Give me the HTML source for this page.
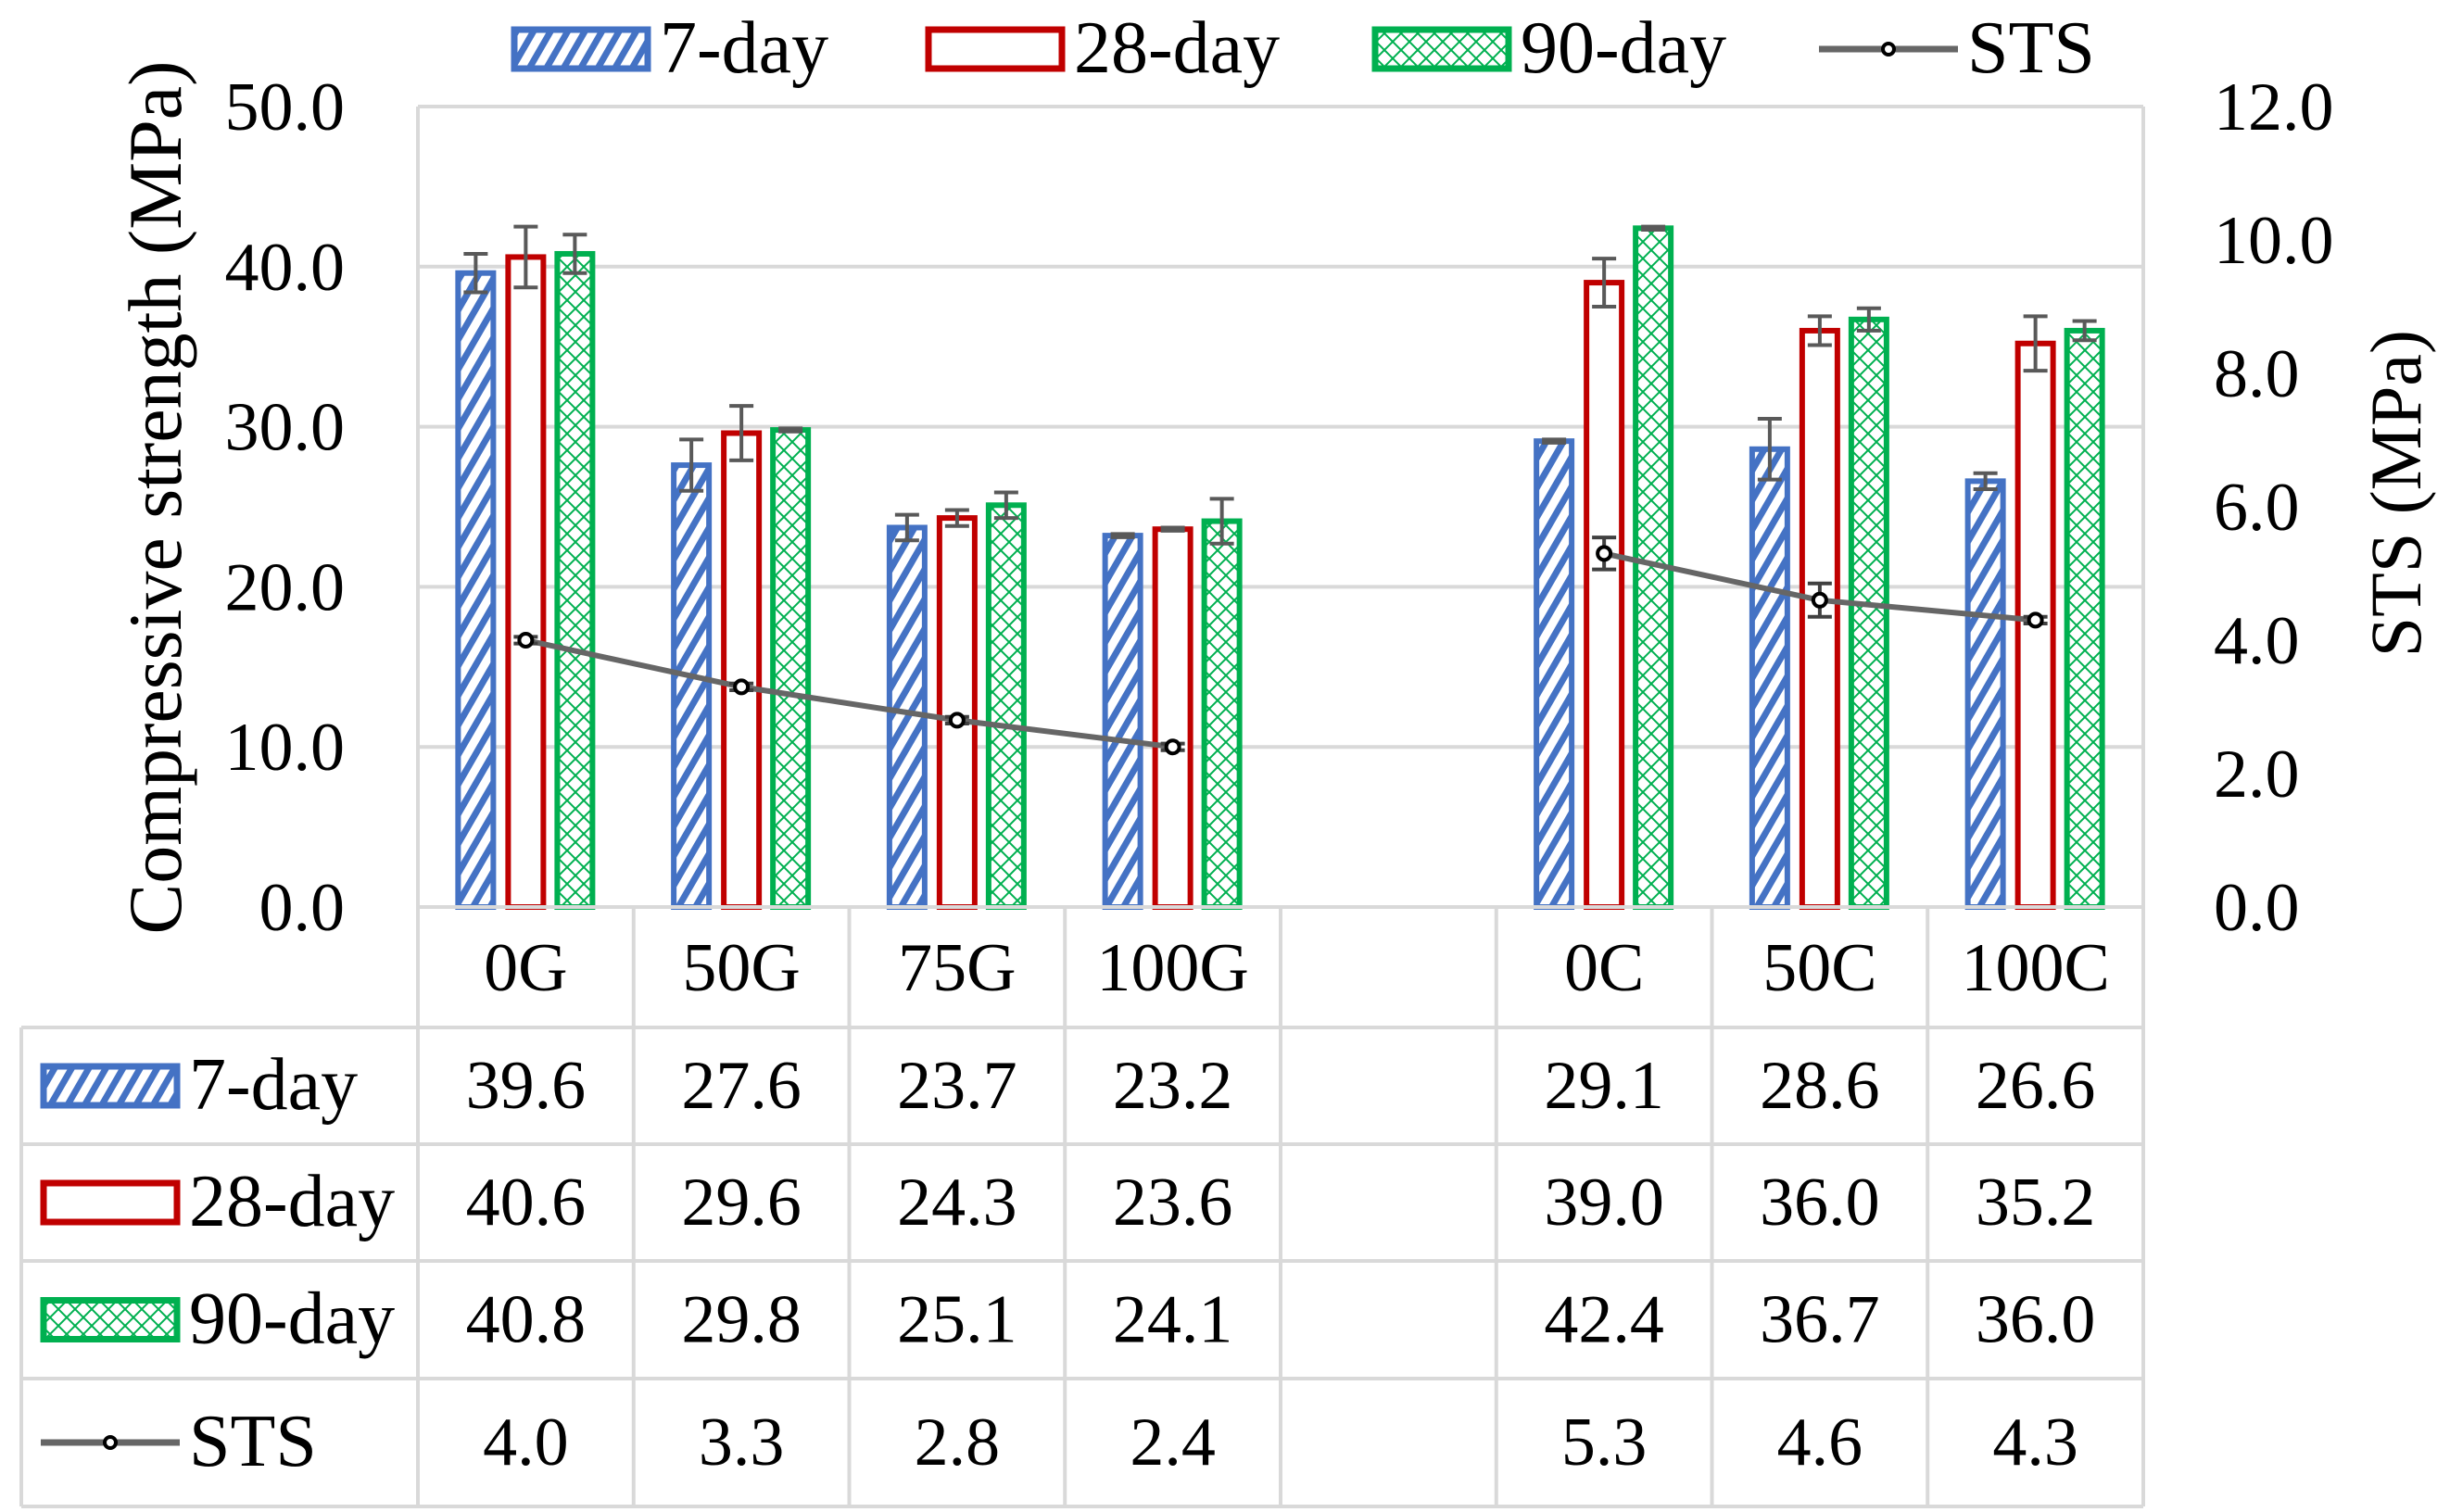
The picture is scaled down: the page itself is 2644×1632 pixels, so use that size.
<!DOCTYPE html>
<html><head><meta charset="utf-8"><style>
html,body{margin:0;padding:0;background:#fff}
svg{display:block}
text{font-family:"Liberation Serif",serif;fill:#000}
</style></head><body>
<svg id="chart" width="2644" height="1632" viewBox="0 0 2644 1632" xmlns="http://www.w3.org/2000/svg">
<defs>
<pattern id="pBlue" patternUnits="userSpaceOnUse" width="16" height="16" patternTransform="rotate(30)">
<rect width="16" height="16" fill="#fff"/><rect width="7" height="16" fill="#4472C4"/></pattern>
<pattern id="pGreen" patternUnits="userSpaceOnUse" width="18" height="18">
<rect width="18" height="18" fill="#fff"/><path d="M0 0L18 18M18 0L0 18" stroke="#00B050" stroke-width="2"/></pattern>
</defs>
<g id="grid"></g><g id="bars"></g><g id="line"></g><g id="table"></g><g id="labels"></g>
</svg>
<script>
const categories = ["0G","50G","75G","100G","","0C","50C","100C"];
const day7 = [39.6,27.6,23.7,23.2,null,29.1,28.6,26.6];
const day28 = [40.6,29.6,24.3,23.6,null,39.0,36.0,35.2];
const day90 = [40.8,29.8,25.1,24.1,null,42.4,36.7,36.0];
const sts = [4.0,3.3,2.8,2.4,null,5.3,4.6,4.3];
const err7 = [1.2,1.6,0.8,0.1,null,0.1,1.9,0.5];
const err28 = [1.9,1.7,0.5,0.1,null,1.5,0.9,1.7];
const err90 = [1.2,0.1,0.8,1.4,null,0.1,0.7,0.6];
const errSts = [0.05,0.05,0.05,0.05,null,0.24,0.25,0.05];
const leftTicks = ["0.0","10.0","20.0","30.0","40.0","50.0"];
const rightTicks = ["0.0","2.0","4.0","6.0","8.0","10.0","12.0"];

const NS="http://www.w3.org/2000/svg";
const L=451,R=2313,T=115,B=979;
const catW=(R-L)/categories.length;
const yL=v=>B-(v/50)*(B-T);
const yR=v=>B-(v/12)*(B-T);
const xC=i=>L+catW*(i+0.5);
function mk(tag,attrs,parent,txt){const e=document.createElementNS(NS,tag);for(const k in attrs)e.setAttribute(k,attrs[k]);if(txt!==undefined)e.textContent=txt;document.getElementById(parent).appendChild(e);return e;}
const GR="#d9d9d9";
const FS=74;
leftTicks.forEach((t,i)=>{const v=parseFloat(t);const y=yL(v);
 const g=mk('line',{x1:L,x2:R,y1:y,y2:y,stroke:GR,'stroke-width':4},'grid');
 
 const tx=mk('text',{x:372,y:y+25,'font-size':FS,'text-anchor':'end'},'labels',t);
 });
rightTicks.forEach(t=>{const y=yR(parseFloat(t));
 const tx=mk('text',{x:2389,y:y+25,'font-size':FS},'labels',t);
 });
mk('line',{x1:L,x2:L,y1:T,y2:B,stroke:GR,'stroke-width':4},'grid');
mk('line',{x1:R,x2:R,y1:T,y2:B,stroke:GR,'stroke-width':4},'grid');
const series=[{d:day7,e:err7,off:-54,fill:'url(#pBlue)',stroke:'#4472C4',n:'7day'},
{d:day28,e:err28,off:0,fill:'#fff',stroke:'#C00000',n:'28day'},
{d:day90,e:err90,off:53,fill:'url(#pGreen)',stroke:'#00B050',n:'90day'}];
const bw=38;
series.forEach(s=>{s.d.forEach((v,i)=>{if(v==null)return;const cx=xC(i)+s.off;const y=yL(v);
 const r=mk('rect',{x:cx-bw/2,y:y,width:bw,height:B-y,fill:s.fill,stroke:s.stroke,'stroke-width':6},'bars');
 
 const e=s.e[i];const y1=yL(v+e),y2=yL(v-e);
 const p=mk('path',{d:`M${cx} ${y1}V${y2}M${cx-13} ${y1}H${cx+13}M${cx-13} ${y2}H${cx+13}`,stroke:'#595959','stroke-width':4,fill:'none'},'bars');
 });});
function stsSeg(a,b){let d='';for(let i=a;i<=b;i++){d+=(i===a?'M':'L')+xC(i)+' '+yR(sts[i]);}
 const p=mk('path',{d:d,stroke:'#666','stroke-width':6,fill:'none'},'line');
 }
stsSeg(0,3);stsSeg(5,7);
sts.forEach((v,i)=>{if(v==null)return;const cx=xC(i),y=yR(v);const e=errSts[i];
 const p=mk('path',{d:`M${cx} ${yR(v+e)}V${yR(v-e)}M${cx-13} ${yR(v+e)}H${cx+13}M${cx-13} ${yR(v-e)}H${cx+13}`,stroke:'#404040','stroke-width':4,fill:'none'},'line');
 
 const c=mk('circle',{cx:cx,cy:y,r:7,fill:'#fff',stroke:'#000','stroke-width':4},'line');
 });
const rowsY=[979,1109,1235,1361,1488,1626];
for(let k=0;k<=categories.length;k++){const x=L+catW*k;
 const l=mk('line',{x1:x,x2:x,y1:B,y2:1626,stroke:GR,'stroke-width':4},'table');
 }
mk('line',{x1:23,x2:23,y1:1109,y2:1626,stroke:GR,'stroke-width':4},'table');
rowsY.forEach((y,j)=>{
 const l=mk('line',{x1:j===0?L:23,x2:R,y1:y,y2:y,stroke:GR,'stroke-width':4},'table');
 });
categories.forEach((c,i)=>{const t=mk('text',{x:xC(i),y:1069,'font-size':FS,'text-anchor':'middle'},'table',c);
 });
const rowData=[day7,day28,day90,sts];
rowData.forEach((arr,j)=>{const cy=(rowsY[j+1]+rowsY[j+2])/2;
 arr.forEach((v,i)=>{if(v==null)return;const t=mk('text',{x:xC(i),y:cy+24,'font-size':FS,'text-anchor':'middle'},'table',v.toFixed(1));
 });});
function key(x,y,idx,parent,name,label){
 if(idx<3){const s=series[idx];const r=mk('rect',{x:x+3,y:y-21,width:144,height:42,fill:s.fill,stroke:s.stroke,'stroke-width':7},parent);
  }
 else{mk('line',{x1:x,x2:x+150,y1:y,y2:y,stroke:'#666','stroke-width':7},parent);
  mk('circle',{cx:x+75,cy:y,r:6,fill:'#fff',stroke:'#000','stroke-width':4},parent);}
 const t=mk('text',{x:x+160,y:y+25,'font-size':80},parent,label);
 }
const labs=['7-day','28-day','90-day','STS'];
labs.forEach((lb,j)=>key(44,(rowsY[j+1]+rowsY[j+2])/2,j,'table','table-legend-'+j,lb));
const topX=[552,999,1481,1963];
labs.forEach((lb,j)=>key(topX[j],53,j,'labels','legend-'+j,lb));
const t1=mk('text',{x:0,y:0,'font-size':82,'text-anchor':'middle',transform:`translate(195 ${(T+B)/2-10}) rotate(-90)`},'labels','Compressive strength (MPa)');

const t2=mk('text',{x:0,y:0,'font-size':78,'text-anchor':'middle',transform:`translate(2612 ${yR(6.2)}) rotate(-90)`},'labels','STS (MPa)');

</script>
</body></html>
